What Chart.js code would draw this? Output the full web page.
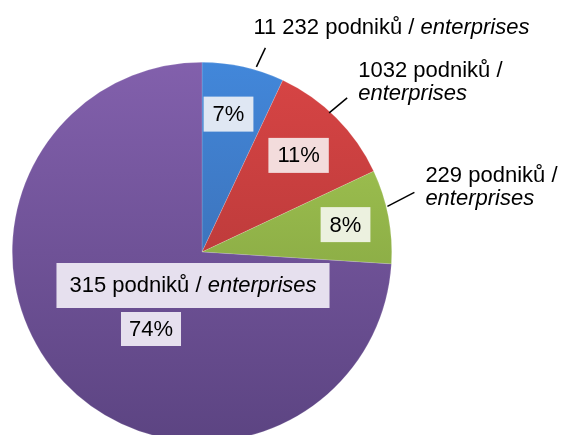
<!DOCTYPE html>
<html>
<head>
<meta charset="utf-8">
<script src="https://cdn.jsdelivr.net/npm/chart.js@4"></script>
<style>
  html, body { margin: 0; padding: 0; background: #fff; overflow: hidden; }
  #wrap { width: 561px; height: 460px; }
</style>
</head>
<body>
<div id="wrap"><canvas id="podnikyChart"></canvas></div>
<script>
// Data
var kategorie = ['11 232 podniků', '1032 podniků', '229 podniků', '315 podniků'];
var podily = [7, 11, 8, 74];
var popisky = ['7%', '11%', '8%', '74%'];

// barvy výsečí (horní / dolní tón přechodu) a podklad popisků
var barvyHore = ['#4287da', '#d84545', '#a8cb55', '#8260ac'];
var barvyDole = ['#3862a0', '#a63232', '#76963a', '#5c4482'];
var barvyPopisku = ['#dfe7f3', '#f3dcdc', '#ecf1df', '#e6e0ee'];

var FONT = '22px "Liberation Sans", Arial, sans-serif';
var FONT_I = 'italic 22px "Liberation Sans", Arial, sans-serif';

function prechod(ctx, i) {
    var area = ctx.chart.chartArea;
    if (!area) return barvyHore[i];
    var g = ctx.chart.ctx.createLinearGradient(0, area.top, 0, area.bottom);
    g.addColorStop(0, barvyHore[i]);
    g.addColorStop(1, barvyDole[i]);
    return g;
}

function textSBoxem(c, text, cx, cy, padX, h, fill) {
    c.font = FONT;
    var w = c.measureText(text).width;
    c.fillStyle = fill;
    c.fillRect(cx - w / 2 - padX, cy - h / 2, w + padX * 2, h);
    c.fillStyle = '#000';
    c.textAlign = 'center';
    c.textBaseline = 'middle';
    c.fillText(text, cx, cy + 1);
}

// vnější popisky: posun čáry a textu od okraje výseče
var vnejsi = [
    { l0: [13, 0], l1: [22, -19], t: [10, -33], radky: 1 },
    { l0: [-7, -5], l1: [11, -20], t: [22, -41], radky: 2 },
    { l0: [-1, -10], l1: [26, -24], t: [37, -34], radky: 2 }
];
var podilPolomeru = [0.74, 0.72, 0.77];
var posunUhlu = [-0.03, 0, 0];

var popiskyPlugin = {
    id: 'popisky',
    afterDatasetsDraw: function (chart) {
        var c = chart.ctx;
        var arcs = chart.getDatasetMeta(0).data;
        c.save();
        arcs.forEach(function (arc, i) {
            var mid = (arc.startAngle + arc.endAngle) / 2;
            var r = arc.outerRadius;
            if (i < 3) {
                var ex = arc.x + Math.cos(mid) * r, ey = arc.y + Math.sin(mid) * r;
                var o = vnejsi[i];
                c.strokeStyle = '#000';
                c.lineWidth = 1.5;
                c.beginPath();
                c.moveTo(ex + o.l0[0], ey + o.l0[1]);
                c.lineTo(ex + o.l1[0], ey + o.l1[1]);
                c.stroke();
                var tx = ex + o.t[0], ty = ey + o.t[1];
                c.textAlign = 'left';
                c.textBaseline = 'alphabetic';
                c.fillStyle = '#000';
                c.font = FONT;
                if (o.radky === 1) {
                    var a = kategorie[i] + ' / ';
                    c.fillText(a, tx, ty);
                    var w = c.measureText(a).width;
                    c.font = FONT_I;
                    c.fillText('enterprises', tx + w, ty);
                } else {
                    c.fillText(kategorie[i] + ' /', tx, ty);
                    c.font = FONT_I;
                    c.fillText('enterprises', tx, ty + 23);
                }
                var pr = r * podilPolomeru[i];
                var ua = mid + posunUhlu[i];
                textSBoxem(c, popisky[i], arc.x + Math.cos(ua) * pr, arc.y + Math.sin(ua) * pr, 9, 35, barvyPopisku[i]);
            } else {
                // popisek největší výseče uvnitř
                var bx = arc.x - 9, by = arc.y + 33;
                c.font = FONT;
                var a2 = kategorie[i] + ' / ';
                var w1 = c.measureText(a2).width;
                c.font = FONT_I;
                var w2 = c.measureText('enterprises').width;
                var wt = w1 + w2;
                c.fillStyle = barvyPopisku[i];
                c.fillRect(bx - wt / 2 - 13, by - 22, wt + 26, 45);
                c.fillStyle = '#000';
                c.textAlign = 'left';
                c.textBaseline = 'middle';
                c.font = FONT;
                c.fillText(a2, bx - wt / 2, by + 1);
                c.font = FONT_I;
                c.fillText('enterprises', bx - wt / 2 + w1, by + 1);
                textSBoxem(c, popisky[i], arc.x - 51, arc.y + 77, 8, 34, barvyPopisku[i]);
            }
        });
        c.restore();
    }
};

var config = {
    type: 'pie',
    data: {
        labels: kategorie,
        datasets: [{
            data: podily,
            backgroundColor: function (ctx) { return prechod(ctx, ctx.dataIndex); },
            borderColor: 'rgba(255,255,255,0.3)',
            borderWidth: 0.5
        }]
    },
    options: {
        responsive: true,
        maintainAspectRatio: false,
        animation: false,
        layout: { padding: { left: 12, top: 62, right: 169, bottom: 18 } },
        plugins: {
            legend: { display: false },
            tooltip: { enabled: false }
        }
    },
    plugins: [popiskyPlugin]
};

var ctx = document.getElementById('podnikyChart').getContext('2d');
var podnikyChart = new Chart(ctx, config);
</script>
</body>
</html>
